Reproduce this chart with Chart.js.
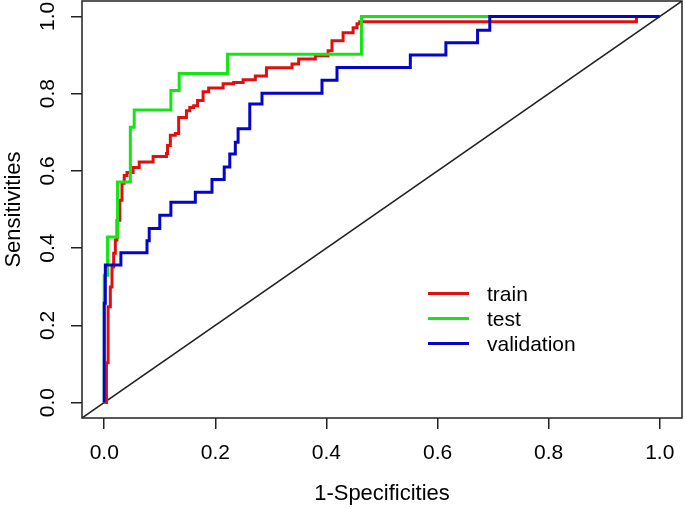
<!DOCTYPE html>
<html>
<head>
<meta charset="utf-8">
<script src="https://cdn.jsdelivr.net/npm/chart.js@4.4.0/dist/chart.umd.min.js"></script>
<style>
  html, body { margin: 0; padding: 0; background: #fff; }
  #wrap { position: relative; width: 685px; height: 508px; }
  #legend { position: absolute; left: 428px; top: 281px; font: 21px 'Liberation Sans', Arial, sans-serif; color: #000; }
  #legend .row { height: 25px; display: flex; align-items: center; }
  #legend .swatch { display: inline-block; width: 41px; height: 3px; margin-right: 18px; }
</style>
</head>
<body>
<div id="wrap">
  <canvas id="roc"></canvas>
  <div id="legend"></div>
</div>
<script>
// axis ticks
const tickValues = [0, 0.2, 0.4, 0.6, 0.8, 1.0]

// ROC corners: x of each riser, sensitivity reached after it (drawn as steps)
const trainFpr = [0, 0.004, 0.007, 0.011, 0.014, 0.017, 0.020, 0.023, 0.028, 0.032, 0.036, 0.041, 0.052, 0.063, 0.088, 0.112, 0.114, 0.119, 0.128, 0.134, 0.148, 0.154, 0.161, 0.168, 0.178, 0.188, 0.214, 0.233, 0.250, 0.272, 0.292, 0.338, 0.350, 0.380, 0.403, 0.410, 0.430, 0.448, 0.455, 0.460, 0.958, 1]
const trainTpr = [0, 0.103, 0.248, 0.299, 0.351, 0.387, 0.421, 0.472, 0.524, 0.568, 0.588, 0.596, 0.609, 0.623, 0.637, 0.645, 0.666, 0.692, 0.697, 0.738, 0.756, 0.764, 0.769, 0.782, 0.805, 0.815, 0.826, 0.829, 0.836, 0.846, 0.867, 0.877, 0.890, 0.898, 0.911, 0.937, 0.958, 0.971, 0.981, 0.986, 1.0, 1.0]

const testFpr = [0, 0, 0.006, 0.024, 0.047, 0.054, 0.120, 0.135, 0.222, 0.463, 1]
const testTpr = [0, 0.330, 0.429, 0.571, 0.713, 0.758, 0.808, 0.852, 0.902, 1.0, 1.0]

const validFpr = [0, 0, 0.002, 0.030, 0.077, 0.081, 0.100, 0.120, 0.164, 0.194, 0.216, 0.226, 0.236, 0.241, 0.262, 0.284, 0.392, 0.419, 0.551, 0.615, 0.672, 0.694, 1]
const validTpr = [0, 0.257, 0.356, 0.388, 0.419, 0.451, 0.485, 0.519, 0.545, 0.578, 0.610, 0.644, 0.674, 0.709, 0.773, 0.801, 0.835, 0.868, 0.900, 0.932, 0.964, 1.0, 1.0]

// reference line across the whole plot region
const diagX = [-0.04, 1.04]
const diagY = [-0.04, 1.04]

const font = "'Liberation Sans', Arial, sans-serif"

const toPoints = (xs, ys) => xs.map((x, i) => ({ x, y: ys[i] }))

const curve = (label, color, xs, ys) => ({
  label,
  data: toPoints(xs, ys),
  borderColor: color,
  backgroundColor: color,
  borderWidth: 3,
  pointRadius: 0,
  stepped: 'before',
  fill: false,
})

const series = [
  curve('train', '#e01010', trainFpr, trainTpr),
  curve('test', '#14e614', testFpr, testTpr),
  curve('validation', '#0505c8', validFpr, validTpr),
]

const boxPlugin = {
  id: 'box',
  afterDraw(chart) {
    const { ctx, chartArea: a } = chart
    ctx.save()
    ctx.strokeStyle = '#222'
    ctx.lineWidth = 1.5
    ctx.strokeRect(a.left, a.top, a.right - a.left, a.bottom - a.top)
    ctx.restore()
  }
}

const axis = (title, extra) => Object.assign({
  type: 'linear',
  min: -0.04,
  max: 1.04,
  afterBuildTicks: s => { s.ticks = tickValues.map(v => ({ value: v })) },
  border: { display: false },
  grid: { display: true, drawOnChartArea: false, drawTicks: true, tickLength: 11, color: '#222', lineWidth: 1.5 },
  title: { display: true, text: title, color: '#000', font: { family: font, size: 22, lineHeight: 1 }, padding: { top: 3, bottom: 3 } },
}, extra)

new Chart(document.getElementById('roc'), {
  type: 'line',
  data: {
    datasets: [
      series[2], series[1], series[0],
      {
        label: 'diagonal',
        data: toPoints(diagX, diagY),
        borderColor: '#222',
        borderWidth: 1.5,
        pointRadius: 0,
        fill: false,
      }
    ]
  },
  options: {
    responsive: true,
    maintainAspectRatio: false,
    animation: false,
    layout: { padding: { top: 1, right: 3, left: 0, bottom: 0 } },
    plugins: { legend: { display: false }, tooltip: { enabled: false } },
    scales: {
      x: axis('1-Specificities', {
        afterFit: s => { s.height = 90; s.paddingLeft = 0; s.paddingRight = 0 },
        ticks: { color: '#000', font: { family: font, size: 21 }, padding: 12, maxRotation: 0, callback: v => v.toFixed(1) },
      }),
      y: axis('Sensitivities', {
        afterFit: s => { s.width = 82; s.paddingTop = 0; s.paddingBottom = 0 },
        ticks: { color: '#000', font: { family: font, size: 21 }, padding: 8, minRotation: 90, maxRotation: 90, crossAlign: 'center', callback: v => v.toFixed(1) },
      }),
    }
  },
  plugins: [boxPlugin]
})

// legend drawn inside the plot, in R's order
const legend = document.getElementById('legend')
series.forEach(ds => {
  const row = document.createElement('div')
  row.className = 'row'
  const sw = document.createElement('span')
  sw.className = 'swatch'
  sw.style.background = ds.borderColor
  row.appendChild(sw)
  row.appendChild(document.createTextNode(ds.label))
  legend.appendChild(row)
})
</script>
</body>
</html>
